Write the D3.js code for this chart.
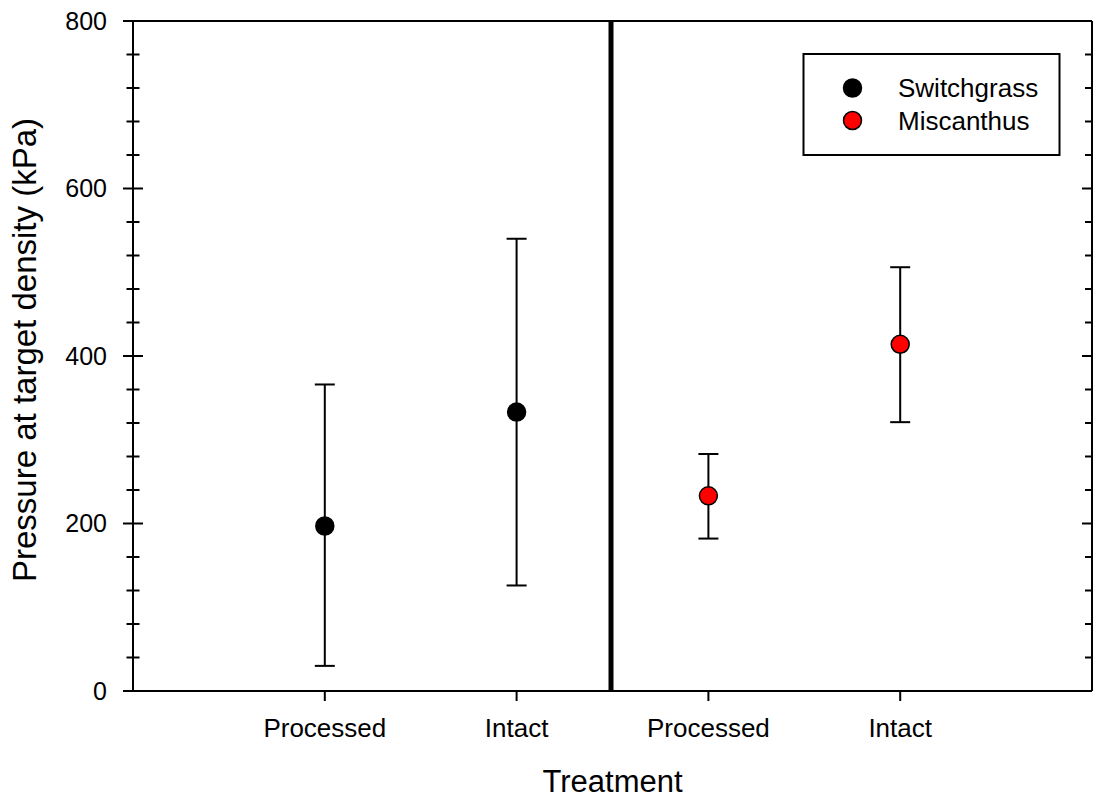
<!DOCTYPE html>
<html>
<head>
<meta charset="utf-8">
<script src="https://cdn.jsdelivr.net/npm/d3@7"></script>
<style>
  html, body { margin: 0; padding: 0; background: #fff; }
  svg { display: block; font-family: "Liberation Sans", Arial, sans-serif; }
</style>
</head>
<body>
<svg id="chart" width="1097" height="799"></svg>
<script>
// Treatment categories along the x axis (positions 1..4)
const categories = ["Processed", "Intact", "Processed", "Intact"];
const seriesNames = ["Switchgrass", "Miscanthus"];
const seriesColors = ["#000000", "#ff0000"];

// Mean pressure and error-bar limits (kPa)
const switchgrassMean = [197, 333];
const switchgrassLow  = [30, 126];
const switchgrassHigh = [366, 540];
const miscanthusMean  = [233, 414];
const miscanthusLow   = [182, 321];
const miscanthusHigh  = [283, 506];

const yMajorTicks = [0, 200, 400, 600, 800];
const yMinorTicks = d3.range(0, 801, 40).filter(v => v % 200 !== 0);

const rows = [
  ...switchgrassMean.map((m, i) => ({ series: 0, pos: i + 1, mean: m, low: switchgrassLow[i], high: switchgrassHigh[i] })),
  ...miscanthusMean.map((m, i) => ({ series: 1, pos: i + 3, mean: m, low: miscanthusLow[i], high: miscanthusHigh[i] }))
];

const plotLeft = 133, plotRight = 1092, plotTop = 21, plotBottom = 691;
const svg = d3.select("#chart");

const x = d3.scaleLinear().domain([0, 5]).range([plotLeft, plotRight]);
const y = d3.scaleLinear().domain([0, 800]).range([plotBottom, plotTop]);

// Frame: top border
svg.append("line").attr("x1", plotLeft).attr("x2", plotRight).attr("y1", plotTop).attr("y2", plotTop)
  .attr("stroke", "#000").attr("stroke-width", 2);

// Left axis with major/minor ticks crossing the axis line
const gL = svg.append("g").attr("transform", `translate(${plotLeft},0)`);
gL.append("line").attr("y1", plotTop).attr("y2", plotBottom).attr("stroke", "#000").attr("stroke-width", 2);
gL.selectAll("line.maj").data(yMajorTicks).join("line").attr("class", "maj")
  .attr("x1", -10).attr("x2", 10).attr("y1", d => y(d)).attr("y2", d => y(d))
  .attr("stroke", "#000").attr("stroke-width", 2);
gL.selectAll("line.min").data(yMinorTicks).join("line").attr("class", "min")
  .attr("x1", -6.5).attr("x2", 6.5).attr("y1", d => y(d)).attr("y2", d => y(d))
  .attr("stroke", "#000").attr("stroke-width", 2);
gL.selectAll("text").data(yMajorTicks).join("text")
  .attr("x", -26).attr("y", d => y(d)).attr("dy", "0.35em")
  .attr("text-anchor", "end").attr("font-size", 25).attr("fill", "#000")
  .text(d => d);

// Right axis with inward ticks
const gR = svg.append("g").attr("transform", `translate(${plotRight},0)`);
gR.append("line").attr("y1", plotTop).attr("y2", plotBottom).attr("stroke", "#000").attr("stroke-width", 2);
gR.selectAll("line.maj").data(yMajorTicks).join("line").attr("class", "maj")
  .attr("x1", -10).attr("x2", 0).attr("y1", d => y(d)).attr("y2", d => y(d))
  .attr("stroke", "#000").attr("stroke-width", 2);
gR.selectAll("line.min").data(yMinorTicks).join("line").attr("class", "min")
  .attr("x1", -7).attr("x2", 0).attr("y1", d => y(d)).attr("y2", d => y(d))
  .attr("stroke", "#000").attr("stroke-width", 2);

// Bottom axis
const gB = svg.append("g").attr("transform", `translate(0,${plotBottom})`);
gB.append("line").attr("x1", plotLeft - 10).attr("x2", plotRight).attr("stroke", "#000").attr("stroke-width", 2);
gB.selectAll("line.tick").data(categories).join("line").attr("class", "tick")
  .attr("x1", (d, i) => x(i + 1)).attr("x2", (d, i) => x(i + 1))
  .attr("y1", 0).attr("y2", 10).attr("stroke", "#000").attr("stroke-width", 2);
gB.selectAll("text").data(categories).join("text")
  .attr("x", (d, i) => x(i + 1)).attr("y", 46)
  .attr("text-anchor", "middle").attr("font-size", 26).attr("fill", "#000")
  .text(d => d);

// Divider between the two grasses
svg.append("line").attr("x1", x(2.5) - 1.5).attr("x2", x(2.5) - 1.5)
  .attr("y1", plotTop).attr("y2", plotBottom + 1)
  .attr("stroke", "#000").attr("stroke-width", 5);

// Error bars
const bars = svg.append("g").attr("stroke", "#000").attr("stroke-width", 2);
rows.forEach(r => {
  const cx = x(r.pos);
  bars.append("line").attr("x1", cx).attr("x2", cx).attr("y1", y(r.low)).attr("y2", y(r.high));
  bars.append("line").attr("x1", cx - 10).attr("x2", cx + 10).attr("y1", y(r.low)).attr("y2", y(r.low));
  bars.append("line").attr("x1", cx - 10).attr("x2", cx + 10).attr("y1", y(r.high)).attr("y2", y(r.high));
});

// Mean markers
svg.append("g").selectAll("circle").data(rows).join("circle")
  .attr("cx", d => x(d.pos)).attr("cy", d => y(d.mean)).attr("r", 9)
  .attr("fill", d => seriesColors[d.series])
  .attr("stroke", "#000").attr("stroke-width", 1.5);

// Legend
const lg = svg.append("g");
lg.append("rect").attr("x", 803.5).attr("y", 54).attr("width", 256).attr("height", 101)
  .attr("fill", "#fff").attr("stroke", "#000").attr("stroke-width", 2);
seriesNames.forEach((name, i) => {
  const cy = 88 + i * 32.5;
  lg.append("circle").attr("cx", 852.5).attr("cy", cy).attr("r", 9)
    .attr("fill", seriesColors[i]).attr("stroke", "#000").attr("stroke-width", 1.5);
  lg.append("text").attr("x", 898).attr("y", cy).attr("dy", "0.35em")
    .attr("font-size", 26).attr("fill", "#000").text(name);
});

// Axis titles
svg.append("text").attr("x", x(2.5)).attr("y", 792)
  .attr("text-anchor", "middle").attr("font-size", 31).attr("fill", "#000")
  .text("Treatment");
svg.append("text")
  .attr("transform", `translate(36,${(plotTop + plotBottom) / 2 - 6}) rotate(-90)`)
  .attr("text-anchor", "middle").attr("font-size", 33).attr("fill", "#000")
  .text("Pressure at target density (kPa)");
</script>
</body>
</html>
